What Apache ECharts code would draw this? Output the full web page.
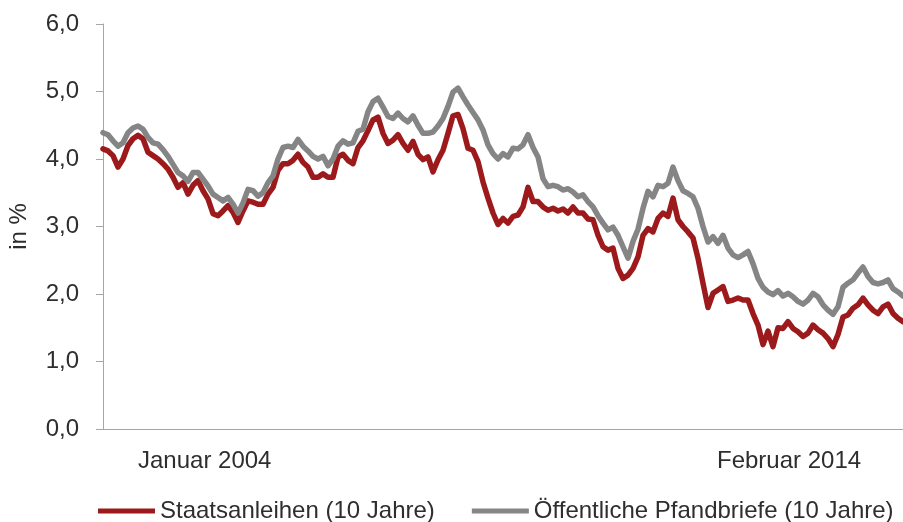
<!DOCTYPE html>
<html>
<head>
<meta charset="utf-8">
<script src="https://cdn.jsdelivr.net/npm/echarts@6/dist/echarts.min.js"></script>
<style>
  html, body { margin: 0; padding: 0; background: #ffffff; }
  #chart { width: 903px; height: 522px; }
</style>
</head>
<body>
<div id="chart"></div>
<script>
// Rendite 10-jähriger Staatsanleihen und Öffentlicher Pfandbriefe, Jan 2004 – Feb 2014 (in %)
const seriesNames = ['Staatsanleihen (10 Jahre)', 'Öffentliche Pfandbriefe (10 Jahre)'];
const periodLabels = ['Januar 2004', 'Februar 2014'];
const yTicks = [0, 1, 2, 3, 4, 5, 6];

const staatsanleihen = [
  4.15, 4.12, 4.05, 3.88, 4.00, 4.20, 4.30, 4.35, 4.30, 4.10,
  4.05, 4.00, 3.93, 3.85, 3.73, 3.58, 3.65, 3.48, 3.61, 3.68,
  3.53, 3.41, 3.19, 3.16, 3.23, 3.31, 3.21, 3.06, 3.23, 3.38,
  3.36, 3.33, 3.33, 3.48, 3.58, 3.83, 3.93, 3.93, 3.98, 4.07,
  3.95, 3.88, 3.73, 3.73, 3.78, 3.73, 3.73, 4.03, 4.07, 3.98,
  3.93, 4.17, 4.27, 4.42, 4.58, 4.62, 4.38, 4.23, 4.28, 4.36,
  4.23, 4.13, 4.26, 4.07, 3.99, 4.03, 3.81, 3.99, 4.13, 4.38,
  4.64, 4.66, 4.45, 4.16, 4.13, 3.96, 3.66, 3.42, 3.20, 3.03,
  3.12, 3.05, 3.15, 3.17, 3.29, 3.58, 3.37, 3.37, 3.29, 3.24,
  3.27, 3.23, 3.26, 3.20, 3.29, 3.20, 3.20, 3.11, 3.10, 2.87,
  2.70, 2.65, 2.68, 2.38, 2.23, 2.28, 2.38, 2.55, 2.87, 2.97,
  2.92, 3.12, 3.20, 3.15, 3.42, 3.10, 3.00, 2.92, 2.83, 2.53,
  2.16, 1.80, 2.01, 2.06, 2.11, 1.89, 1.91, 1.94, 1.91, 1.91,
  1.71, 1.54, 1.25, 1.45, 1.22, 1.50, 1.49, 1.59, 1.49, 1.44,
  1.37, 1.42, 1.54, 1.47, 1.42, 1.34, 1.22, 1.40, 1.66, 1.69,
  1.79, 1.84, 1.94, 1.84, 1.76, 1.71, 1.81, 1.85, 1.71, 1.64,
  1.59
];

const pfandbriefe = [
  4.39, 4.36, 4.27, 4.19, 4.24, 4.39, 4.46, 4.49, 4.44, 4.32,
  4.24, 4.22, 4.14, 4.04, 3.92, 3.80, 3.75, 3.67, 3.80, 3.80,
  3.70, 3.60, 3.48, 3.43, 3.38, 3.43, 3.33, 3.20, 3.35, 3.55,
  3.53, 3.45, 3.50, 3.65, 3.75, 4.00, 4.17, 4.19, 4.17, 4.29,
  4.19, 4.12, 4.04, 4.00, 4.04, 3.90, 4.00, 4.19, 4.27, 4.22,
  4.24, 4.41, 4.44, 4.70, 4.85, 4.90, 4.77, 4.63, 4.60, 4.68,
  4.60, 4.55, 4.64, 4.50, 4.38, 4.38, 4.40, 4.49, 4.60, 4.78,
  4.99, 5.05, 4.92, 4.80, 4.69, 4.58, 4.43, 4.21, 4.08, 4.00,
  4.08, 4.03, 4.16, 4.15, 4.21, 4.36, 4.17, 4.03, 3.71, 3.59,
  3.61, 3.59, 3.54, 3.56, 3.51, 3.44, 3.47, 3.37, 3.29, 3.16,
  3.05, 2.95, 2.99, 2.87, 2.70, 2.53, 2.78, 2.96, 3.27, 3.52,
  3.44, 3.61, 3.59, 3.64, 3.88, 3.68, 3.53, 3.49, 3.44, 3.27,
  3.00, 2.77, 2.85, 2.75, 2.87, 2.68, 2.58, 2.54, 2.58, 2.63,
  2.45, 2.23, 2.10, 2.03, 1.99, 2.05, 1.97, 2.01, 1.96, 1.89,
  1.85, 1.91, 2.01, 1.96, 1.84, 1.76, 1.70, 1.81, 2.10, 2.16,
  2.21, 2.31, 2.40, 2.26, 2.17, 2.15, 2.17, 2.21, 2.08, 2.03,
  1.97
];

// Evenly spaced observation dates between the first and last trading day
const firstDay = Date.UTC(2004, 0, 2);
const lastDay = Date.UTC(2014, 1, 28);
const dates = staatsanleihen.map(function (_, i) {
  const t = firstDay + (lastDay - firstDay) * i / (staatsanleihen.length - 1);
  return new Date(t).toISOString().slice(0, 10);
});

const FONT = 'Liberation Sans, Arial, sans-serif';
const TEXT = '#2e2e2e';
const AXIS = '#a6a6a6';

const chart = echarts.init(document.getElementById('chart'), null, { renderer: 'canvas' });

chart.setOption({
  animation: false,
  backgroundColor: '#ffffff',
  textStyle: { fontFamily: FONT },
  grid: { left: 103, right: 0, top: 24, bottom: 93, containLabel: false, outerBoundsMode: 'none' },
  legend: {
    left: 98,
    top: 499,
    padding: 0,
    itemWidth: 57,
    itemHeight: 5,
    itemGap: 37,
    icon: 'rect',
    textStyle: { fontFamily: FONT, fontSize: 24, color: TEXT },
    data: seriesNames
  },
  xAxis: {
    type: 'category',
    data: dates,
    boundaryGap: false,
    axisLine: { show: true, lineStyle: { color: AXIS, width: 1 } },
    axisTick: { show: false },
    axisLabel: { show: false },
    splitLine: { show: false }
  },
  yAxis: {
    type: 'value',
    min: yTicks[0],
    max: yTicks[yTicks.length - 1],
    interval: 1,
    name: 'in %',
    nameLocation: 'middle',
    nameRotate: 90,
    nameGap: 72,
    nameTextStyle: { fontFamily: FONT, fontSize: 24, color: TEXT },
    axisLine: { show: true, lineStyle: { color: AXIS, width: 1 } },
    axisTick: { show: true, inside: false, length: 7, lineStyle: { color: AXIS } },
    axisLabel: {
      margin: 24,
      fontFamily: FONT,
      fontSize: 24,
      color: TEXT,
      formatter: function (v) { return v.toFixed(1).replace('.', ','); }
    },
    splitLine: { show: false }
  },
  graphic: [
    {
      type: 'text', left: 205 - 67, top: 449,
      style: { text: periodLabels[0], font: '24px ' + FONT, fill: TEXT }
    },
    {
      type: 'text', left: 790 - 73, top: 449,
      style: { text: periodLabels[1], font: '24px ' + FONT, fill: TEXT }
    }
  ],
  series: [
    {
      name: seriesNames[0],
      type: 'line',
      data: staatsanleihen,
      showSymbol: false,
      symbol: 'none',
      lineStyle: { color: '#9c1a1c', width: 5.5, join: 'round', cap: 'round' },
      itemStyle: { color: '#9c1a1c' },
      z: 2
    },
    {
      name: seriesNames[1],
      type: 'line',
      data: pfandbriefe,
      showSymbol: false,
      symbol: 'none',
      lineStyle: { color: '#858585', width: 5.5, join: 'round', cap: 'round' },
      itemStyle: { color: '#858585' },
      z: 3
    }
  ]
});
</script>
</body>
</html>
